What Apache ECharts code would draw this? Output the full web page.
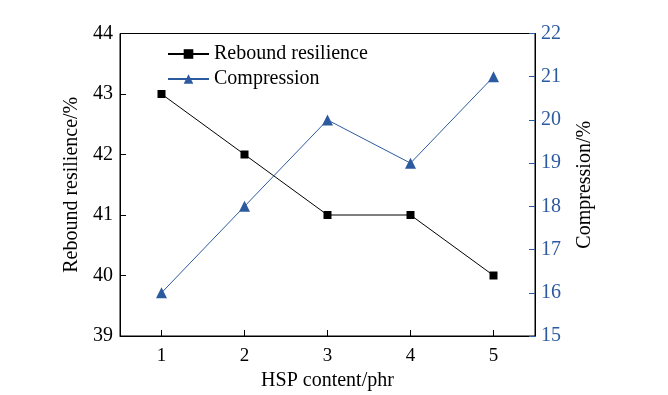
<!DOCTYPE html>
<html><head><meta charset="utf-8">
<script src="https://cdn.jsdelivr.net/npm/echarts@6/dist/echarts.min.js"></script>
<style>html,body{margin:0;padding:0;background:#fff}#c{width:668px;height:395px}</style>
</head><body><div id="c"></div>
<script>
const categories = ['1','2','3','4','5'];
const rebound = [43, 42, 41, 41, 40];
const compression = [16, 18, 20, 19, 21];
const leftTicks = [39, 44, 1];
const rightTicks = [15, 22, 1];
const blue = '#2c5aa0';
const font = 'Liberation Serif';
const chart = echarts.init(document.getElementById('c'));
chart.setOption({
  animation: false,
  textStyle: {fontFamily: font},
  grid: {left: 120, right: 133, top: 33.5, bottom: 59, show: true, borderColor: '#000', borderWidth: 1,
         containLabel: false, outerBoundsMode: 'none', z: 0},
  legend: {
    left: 162, top: 39, orient: 'vertical', itemGap: 5, itemWidth: 41, itemHeight: 12,
    textStyle: {fontFamily: font, fontSize: 20, color: '#000'},
    data: ['Rebound resilience', 'Compression']
  },
  xAxis: {
    type: 'category', data: categories,
    name: 'HSP content/phr', nameLocation: 'middle', nameGap: 35,
    nameTextStyle: {fontFamily: font, fontSize: 20, color: '#000'},
    axisLine: {show: true, lineStyle: {color: '#000', width: 1}},
    axisTick: {show: true, inside: true, alignWithLabel: true, length: 6, lineStyle: {color: '#000', width: 1}},
    axisLabel: {fontFamily: font, fontSize: 19, color: '#000', margin: 11},
    splitLine: {show: false}
  },
  yAxis: [{
    type: 'value', min: leftTicks[0], max: leftTicks[1], interval: leftTicks[2],
    name: 'Rebound resilience/%', nameLocation: 'middle', nameGap: 35, nameRotate: 90,
    nameTextStyle: {fontFamily: font, fontSize: 20, color: '#000'},
    axisLine: {show: true, lineStyle: {color: '#000'}},
    axisTick: {show: true, inside: true, length: 6, lineStyle: {color: '#000', width: 1}},
    axisLabel: {fontFamily: font, fontSize: 20, color: '#000', margin: 7},
    splitLine: {show: false}
  }, {
    type: 'value', min: rightTicks[0], max: rightTicks[1], interval: rightTicks[2],
    name: 'Compression/%', nameLocation: 'middle', nameGap: 40, nameRotate: 90,
    nameTextStyle: {fontFamily: font, fontSize: 20, color: '#000'},
    axisLine: {show: true, lineStyle: {color: '#000'}},
    axisTick: {show: true, inside: true, length: 6, lineStyle: {color: blue, width: 1}},
    axisLabel: {fontFamily: font, fontSize: 20, color: blue, margin: 6},
    splitLine: {show: false}
  }],
  series: [{
    name: 'Rebound resilience', type: 'line', data: rebound, yAxisIndex: 0,
    symbol: 'rect', symbolSize: 8,
    itemStyle: {color: '#000'}, lineStyle: {color: '#000', width: 1}
  }, {
    name: 'Compression', type: 'line', data: compression, yAxisIndex: 1,
    symbol: 'triangle', symbolSize: 11,
    itemStyle: {color: blue}, lineStyle: {color: blue, width: 1}
  }]
});
</script></body></html>
